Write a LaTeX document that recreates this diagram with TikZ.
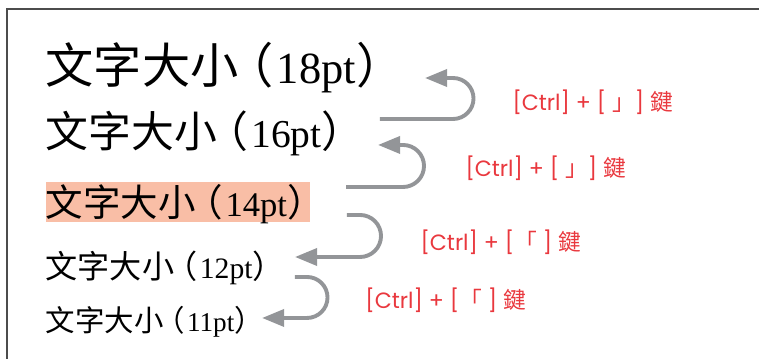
\documentclass[tikz,border=0pt]{standalone}
\usepackage{fontspec}
\setmainfont[Scale=0.95]{Liberation Serif}
\newfontfamily\cjk[Scale=1.03]{Noto Sans CJK TC}
\newfontfamily\keyfont{Poppins}
\usetikzlibrary{arrows.meta}
\definecolor{keyRed}{RGB}{233,56,62}
\definecolor{markPink}{RGB}{249,190,166}
\definecolor{arrowGray}{RGB}{147,149,152}
\tikzset{
  every picture/.style={>={Triangle[length=8.5pt,width=6.5pt]}}}
% full-width brackets, pulled in a little
\newcommand\sizeOpen{\kern-0.3em{\cjk （}\kern0.08em}
\newcommand\sizeClose{{\cjk ）}\kern-0.42em}

\begin{document}
\begin{tikzpicture}[
    sizeLine/.style={anchor=base west, inner sep=0pt},
    keyLabel/.style={
      anchor=west, inner sep=0pt, text=keyRed,
      font=\keyfont\fontsize{8.5pt}{8.5pt}\selectfont},
    stepArrow/.style={->, draw=arrowGray, line width=1.5pt}]

    \useasboundingbox (0,0) rectangle (10.257,4.851);
    \draw[black!70, line width=0.7pt] (0.10,0) -- (0.10,4.73) -- (10.257,4.73);

    % the same line at five sizes
    \node[sizeLine, font=\fontsize{18pt}{18pt}\selectfont] (s18) at (0.61,3.724)
      {{\cjk 文字大小}\sizeOpen 18pt\sizeClose};
    \node[sizeLine, font=\fontsize{16pt}{16pt}\selectfont] (s16) at (0.61,2.858)
      {{\cjk 文字大小}\sizeOpen 16pt\sizeClose};
    \node[sizeLine, font=\fontsize{14pt}{14pt}\selectfont,
          fill=markPink, text height=13.2pt, text depth=2.2pt] (s14) at (0.61,1.927)
      {{\cjk 文字大小}\sizeOpen 14pt\sizeClose};
    \node[sizeLine, font=\fontsize{12pt}{12pt}\selectfont] (s12) at (0.61,1.081)
      {{\cjk 文字大小}\sizeOpen 12pt\sizeClose};
    \node[sizeLine, font=\fontsize{11pt}{11pt}\selectfont] (s11) at (0.61,0.365)
      {{\cjk 文字大小}\sizeOpen 11pt\sizeClose};

    \coordinate (a1s) at (5.135,3.243);
    \coordinate (a1e) at (5.743,3.797);
    \coordinate (a2s) at (4.676,2.324);
    \coordinate (a2e) at (5.108,2.892);
    \coordinate (a3s) at (4.689,1.946);
    \coordinate (a3e) at (3.986,1.378);
    \coordinate (a4s) at (3.986,1.108);
    \coordinate (a4e) at (3.541,0.554);

    % bigger: loop up, smaller: loop down
    \draw[stepArrow] (a1s) -- ++(0.987,0)
      arc[start angle=-90, end angle=90, radius=0.277] -- (a1e);
    \draw[stepArrow] (a2s) -- ++(0.770,0)
      arc[start angle=-90, end angle=90, radius=0.284] -- (a2e);
    \draw[stepArrow] (a3s) -- ++(0.176,0)
      arc[start angle=90, end angle=-90, radius=0.284] -- (a3e);
    \draw[stepArrow] (a4s) -- ++(0.163,0)
      arc[start angle=90, end angle=-90, radius=0.277] -- (a4e);

    \node[keyLabel] (k1) at (6.919,3.473) {[Ctrl]~+~[~{\cjk 」}]~{\cjk 鍵}};
    \node[keyLabel] (k2) at (6.284,2.581) {[Ctrl]~+~[~{\cjk 」}]~{\cjk 鍵}};
    \node[keyLabel] (k3) at (5.676,1.581) {[Ctrl]~+~[{\cjk 「}~]~{\cjk 鍵}};
    \node[keyLabel] (k4) at (4.932,0.797) {[Ctrl]~+~[{\cjk 「}~]~{\cjk 鍵}};
\end{tikzpicture}
\end{document}
